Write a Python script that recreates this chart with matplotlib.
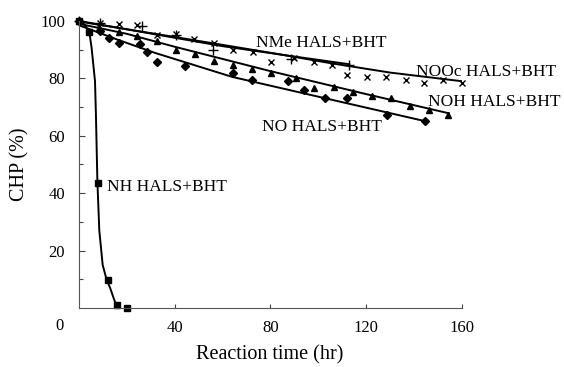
import matplotlib
matplotlib.use('Agg', force=True)

import matplotlib.pyplot as plt

plt.rcParams['font.family'] = ['Liberation Serif', 'DejaVu Serif']

nh_t = [0, 4.3, 8.1, 12.0, 16.0, 19.9]
nh_y = [100, 96.3, 43.4, 9.8, 1.0, 0.0]

nme_t = [0, 8.6, 26.4, 40.4, 56.1, 88.5, 112.8]
nme_y = [100, 99.2, 98.3, 95.0, 89.7, 86.8, 84.7]

nooc_t = [0, 8.6, 16.7, 24.4, 32.7, 40.4, 48.0, 56.4, 64.2, 72.6, 80.2, 89.8,
          98.2, 105.8, 112.1, 120.2, 128.1, 136.5, 144.1, 152.0, 160.1]
nooc_y = [100, 99.4, 98.9, 98.5, 95.1, 95.4, 93.6, 92.3, 89.9, 89.1, 85.8, 87.1,
          85.7, 84.7, 81.2, 80.6, 80.6, 79.4, 78.3, 79.4, 78.3]

noh_t = [0, 8.4, 16.7, 24.4, 32.5, 40.4, 48.3, 56.4, 64.5, 72.3, 80.2, 90.5,
         98.2, 106.4, 114.6, 122.6, 130.2, 138.3, 146.2, 154.1]
noh_y = [100, 97.5, 96.3, 94.8, 93.1, 89.7, 88.4, 86.1, 84.8, 83.2, 81.9, 80.1,
         76.8, 76.9, 75.4, 73.9, 73.1, 70.4, 69.0, 67.2]

no_t = [0, 8.6, 12.5, 16.7, 25.4, 28.6, 32.5, 44.2, 64.2, 72.4, 87.2, 94.1,
        103.0, 112.1, 128.8, 144.4]
no_y = [100, 96.5, 94.1, 92.3, 91.9, 89.3, 85.8, 84.3, 81.8, 79.4, 79.1, 76.1,
        73.3, 73.1, 67.2, 65.3]

# ---- fitted curves ----
nh_fit_t = [0, 2, 4.3, 5.3, 6.7, 7.1, 7.7, 8.5, 9.9, 11.5, 13, 15, 16.5]
nh_fit_y = [100, 99, 96.3, 90.5, 79, 67, 44, 27, 15, 10, 7, 2.2, 0.5]

nme_fit_t = [0, 30, 60, 90, 113]
nme_fit_y = [100, 95.6, 91.2, 87.6, 84.9]

nooc_fit_t = [0, 40, 80, 105, 130, 160.8]
nooc_fit_y = [99.8, 94.4, 88.9, 85.3, 82.0, 78.9]

noh_fit_t = [0, 20, 40, 80, 120, 154.6]
noh_fit_y = [99.0, 95.5, 91.0, 82.5, 74.5, 67.8]

no_fit_t = [0, 16, 32, 64, 100, 145.5]
no_fit_y = [98.5, 93.5, 88.8, 80.5, 73.6, 64.9]

labels = ['NMe HALS+BHT', 'NOOc HALS+BHT', 'NOH HALS+BHT', 'NO HALS+BHT', 'NH HALS+BHT']
label_t = [73.8, 141.0, 145.8, 76.3, 11.6]
label_y = [92.2, 82.3, 71.9, 63.0, 42.3]

# ================= plot =================
fig = plt.figure(figsize=(5.64, 3.67), dpi=100)
ax = fig.add_axes([0.140, 0.161, 0.679, 0.782])

lw = 1.4
ax.plot(nh_fit_t, nh_fit_y, color='black', lw=lw)
ax.plot(nme_fit_t, nme_fit_y, color='black', lw=lw)
ax.plot(nooc_fit_t, nooc_fit_y, color='black', lw=lw)
ax.plot(noh_fit_t, noh_fit_y, color='black', lw=lw)
ax.plot(no_fit_t, no_fit_y, color='black', lw=lw)

ax.plot(nooc_t, nooc_y, 'x', color='black', ms=5, mew=1.0, clip_on=False)
ax.plot(nme_t, nme_y, '+', color='black', ms=7, mew=1.0, clip_on=False)
ax.plot(noh_t, noh_y, '^', color='black', ms=5, clip_on=False)
ax.plot(no_t, no_y, 'D', color='black', ms=4, clip_on=False)
ax.plot(nh_t, nh_y, 's', color='black', ms=5, clip_on=False)

for txt, tx, ty in zip(labels, label_t, label_y):
    ax.text(tx, ty, txt, fontsize=12.5, ha='left', va='center')

ax.set_xlim(0, 160)
ax.set_ylim(0, 100)
ax.set_xticks([40, 80, 120, 160])
ax.set_yticks([20, 40, 60, 80, 100])
ax.set_yticks([10, 30, 50, 70, 90], minor=True)
ax.tick_params(axis='both', which='both', direction='in', labelsize=12,
               color='#444444', width=0.8)
ax.tick_params(axis='y', which='major', length=4, pad=10)
ax.tick_params(axis='y', which='minor', length=3)
ax.tick_params(axis='x', which='major', length=3, pad=9)

ax.text(-0.05, -0.062, '0', transform=ax.transAxes, fontsize=12,
        ha='center', va='center')

for side in ['top', 'right']:
    ax.spines[side].set_visible(False)
for side in ['left', 'bottom']:
    ax.spines[side].set_color('#555555')
    ax.spines[side].set_linewidth(0.8)

ax.set_xlabel('Reaction time (hr)', fontsize=14.5)
ax.set_ylabel('CHP (%)', fontsize=14.5)
ax.xaxis.set_label_coords(0.499, -0.13)
ax.yaxis.set_label_coords(-0.128, 0.5)

fig.savefig('out.png', dpi=100)
